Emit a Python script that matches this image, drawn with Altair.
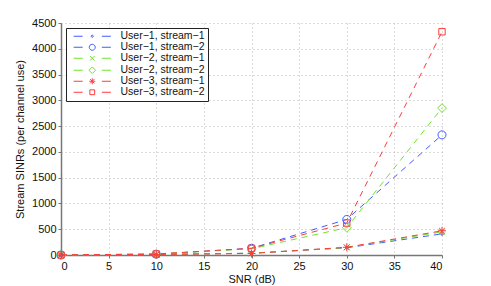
import altair as alt
import pandas as pd

snr = [0, 10, 20, 30, 40]
series_names = [
    "User−1, stream−1",
    "User−1, stream−2",
    "User−2, stream−1",
    "User−2, stream−2",
    "User−3, stream−1",
    "User−3, stream−2",
]
u1s1 = [0, 10, 35, 140, 410]
u1s2 = [0, 15, 130, 690, 2330]
u2s1 = [0, 10, 35, 145, 450]
u2s2 = [0, 20, 120, 530, 2850]
u3s1 = [0, 10, 30, 150, 470]
u3s2 = [0, 20, 130, 620, 4330]
all_values = [u1s1, u1s2, u2s1, u2s2, u3s1, u3s2]
colors = ["#3f5cff", "#3f5cff", "#6fe32e", "#6fe32e", "#ff3b3b", "#ff3b3b"]
x_ticks = [0, 5, 10, 15, 20, 25, 30, 35, 40]
y_ticks = [0, 500, 1000, 1500, 2000, 2500, 3000, 3500, 4000, 4500]

# marker shapes (unit paths)
dot = "M0.35,0A0.35,0.35,0,1,1,-0.35,0A0.35,0.35,0,1,1,0.35,0Z"
circ = "M1,0A1,1,0,1,1,-1,0A1,1,0,1,1,1,0Z"
xmark = "M-0.75,-0.75L0.75,0.75M-0.75,0.75L0.75,-0.75"
diam = "M0,-1.1L1.1,0L0,1.1L-1.1,0Z"
aster = "M-1,0L1,0M0,-1L0,1M-0.7,-0.7L0.7,0.7M-0.7,0.7L0.7,-0.7"
square = "M-0.8,-0.8L0.8,-0.8L0.8,0.8L-0.8,0.8Z"
markers = [dot, circ, xmark, diam, aster, square]
dashes = "M-6.2,0L-3.2,0M3.2,0L6.2,0"
legend_shapes = [m + dashes for m in markers]

rows = []
for i, name in enumerate(series_names):
    for x, v in zip(snr, all_values[i]):
        rows.append({"snr": x, "val": v, "series": name, "order": i})
df = pd.DataFrame(rows)

color_scale = alt.Scale(domain=series_names, range=colors)
xs = alt.X("snr:Q", scale=alt.Scale(domain=[0, 40], nice=False),
           axis=alt.Axis(values=x_ticks, title="SNR (dB)", grid=True))
ys = alt.Y("val:Q", scale=alt.Scale(domain=[0, 4500], nice=False),
           axis=alt.Axis(values=y_ticks, title="Stream SINRs (per channel use)",
                         grid=True, format="d"))

lines = alt.Chart(df).mark_line(strokeDash=[6, 5], strokeWidth=1).encode(
    x=xs, y=ys,
    color=alt.Color("series:N", scale=color_scale, legend=None),
    detail="series:N",
    order="snr:Q",
)

points = alt.Chart(df).mark_point(filled=False, size=64, strokeWidth=1, opacity=1).encode(
    x=xs, y=ys,
    color=alt.Color("series:N", scale=color_scale, legend=None),
    shape=alt.Shape("series:N", scale=alt.Scale(domain=series_names, range=markers), legend=None),
    order="order:Q",
)

legend_layer = alt.Chart(df).transform_filter("false").mark_point(
    filled=False, size=36, strokeWidth=1, opacity=1
).encode(
    x=xs, y=ys,
    color=alt.Color("series:N", scale=color_scale, legend=None),
    shape=alt.Shape(
        "series:N",
        scale=alt.Scale(domain=series_names, range=legend_shapes),
        legend=alt.Legend(
            title=None, orient="top-left", offset=5,
            symbolSize=36, symbolStrokeWidth=1, symbolOffset=18,
            labelOffset=23, labelFontSize=10.5, labelFont="Liberation Sans",
            labelColor="#111", rowPadding=0, padding=3,
            strokeColor="#222", fillColor="white",
            symbolStrokeColor=alt.ExprRef("scale('color', datum.value)"),
            symbolOpacity=1,
        ),
    ),
)

chart = alt.layer(lines, points, legend_layer).resolve_scale(shape="independent").properties(
    width=381, height=232, padding={"left": 6, "top": 9, "right": 5, "bottom": 5}
).configure_axis(
    labelFont="Liberation Sans", titleFont="Liberation Sans",
    labelFontSize=11, titleFontSize=11, titleFontWeight="normal",
    labelColor="#111", titleColor="#111",
    gridColor="#b8b8b8", gridDash=[1, 3], gridWidth=1,
    domainColor="#777", domainWidth=1.5, tickColor="#777", tickSize=3,
    labelPadding=2,
).configure_axisX(titlePadding=2).configure_axisY(titlePadding=6).configure_view(
    stroke=None
)

chart.save("out.html", embed_options={"renderer": "svg", "actions": False})
